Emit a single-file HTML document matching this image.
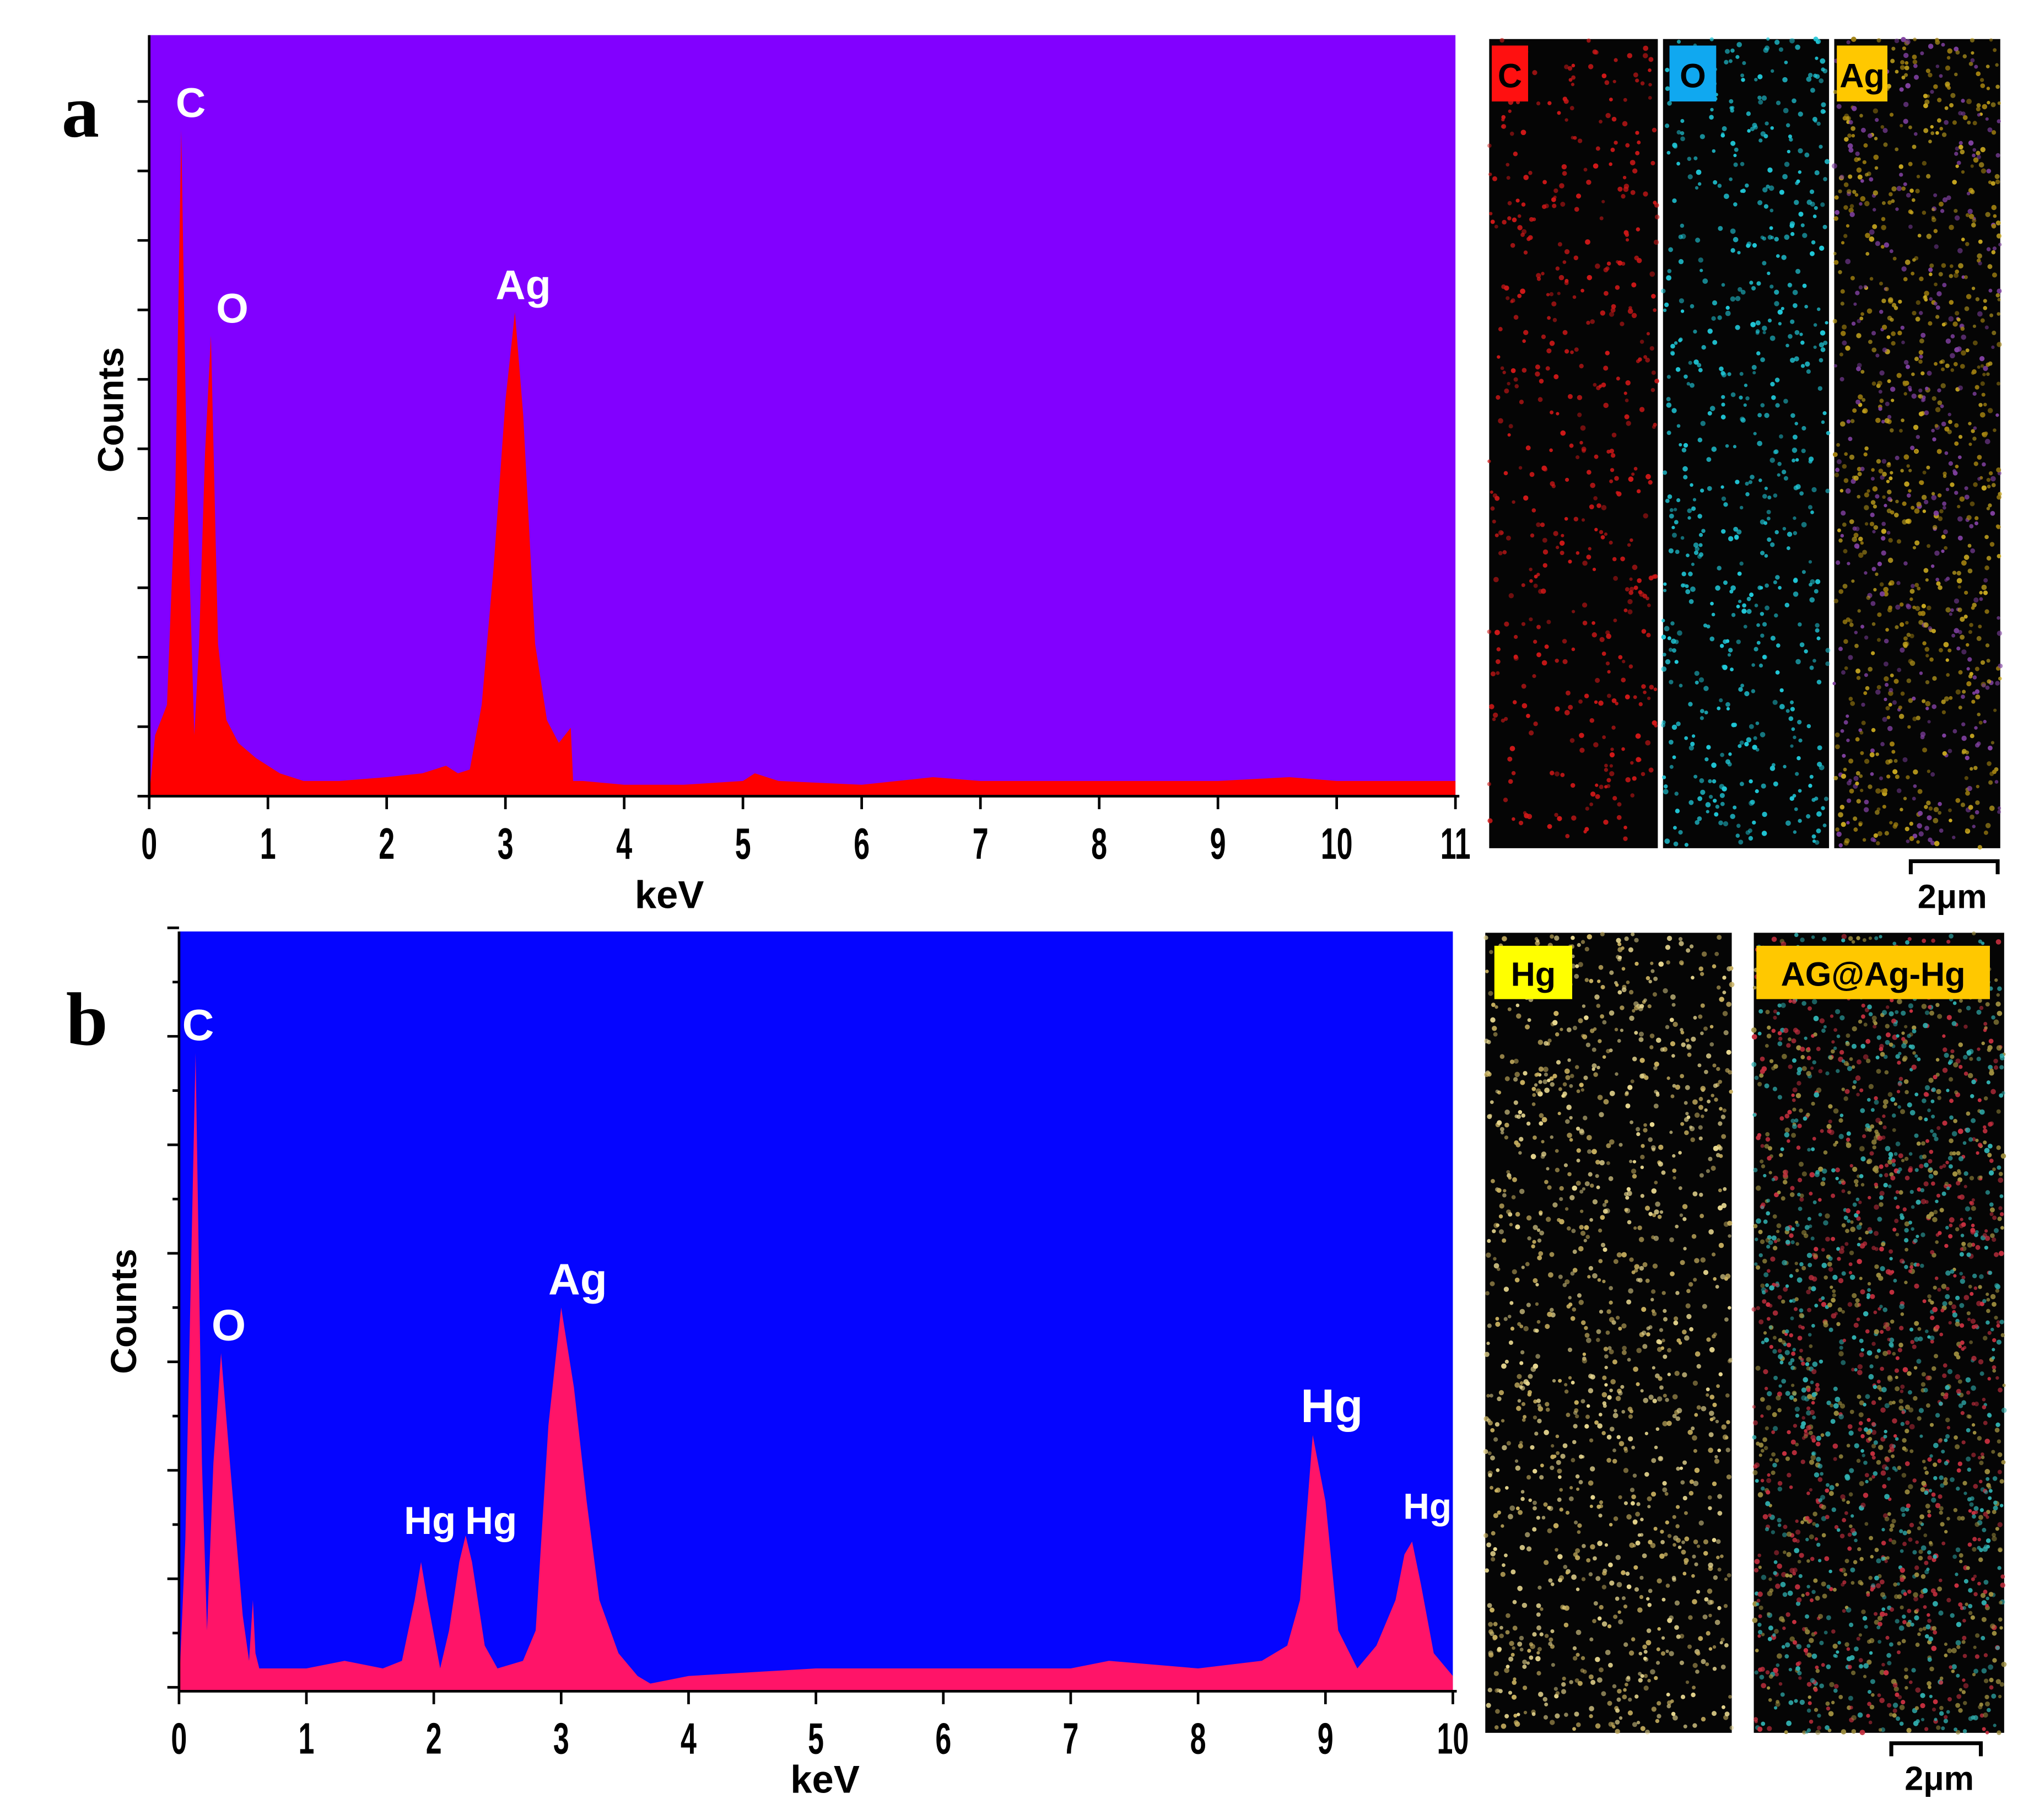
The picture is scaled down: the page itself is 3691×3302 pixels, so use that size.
<!DOCTYPE html>
<html><head><meta charset="utf-8"><style>
html,body{margin:0;padding:0;background:#fff;}
svg{display:block;}
text{font-family:"Liberation Sans",sans-serif;font-weight:bold;}
</style></head><body>
<svg id="fig" width="3691" height="3302" viewBox="0 0 1568 1399" preserveAspectRatio="none" xmlns="http://www.w3.org/2000/svg">
<g id="pa"></g>
<g id="pb"></g>
<g id="maps"></g>
</svg>
<script>
// ---- Panel a data ----
const kevA=[0,0.05,0.15,0.22,0.27,0.32,0.38,0.42,0.47,0.52,0.58,0.65,0.75,0.9,1.0,1.1,1.3,1.6,2.0,2.3,2.5,2.6,2.7,2.8,2.9,3.0,3.08,3.15,3.25,3.35,3.45,3.5,3.55,3.57,3.65,4.0,4.5,5.0,5.1,5.3,6.0,6.6,7.0,8.0,9.0,9.6,10,11];
const countsA=[0,8,12,40,87.5,40,8,20,45,60.5,20,10,7,5,4,3,2,2,2.5,3,4,3,3.5,12,30,52,63.6,50,20,10,7,8,9,2,2,1.5,1.5,2,3,2,1.5,2.5,2,2,2,2.5,2,2];
const ticksA=[0,1,2,3,4,5,6,7,8,9,10,11];
const peakLabelsA=[["C",0.35,87.5],["O",0.7,60.5],["Ag",3.15,63.6]];
// ---- Panel b data ----
const kevB=[0,0.05,0.1,0.13,0.18,0.22,0.27,0.33,0.4,0.5,0.55,0.58,0.6,0.63,0.7,1.0,1.3,1.6,1.75,1.85,1.9,1.95,2.05,2.12,2.2,2.25,2.3,2.4,2.5,2.7,2.8,2.9,3.0,3.1,3.2,3.3,3.45,3.6,3.7,4.0,5.0,6.0,7.0,7.3,8.0,8.5,8.7,8.8,8.9,9.0,9.1,9.25,9.4,9.55,9.62,9.68,9.75,9.85,10];
const countsB=[0,20,60,84,30,8,30,44.5,30,10,4,12,5,3,3,3,4,3,4,12,17,12,3,8,17,20.5,17,6,3,4,8,35,50.5,40,25,12,5,2,1,2,3,3,3,4,3,4,6,12,33.7,25,8,3,6,12,18,19.7,14,5,2];
const ticksB=[0,1,2,3,4,5,6,7,8,9,10];
const peakLabelsB=[["C",0.15,84,34],["O",0.39,44.5,34],["Ag",3.13,50.5,34],["Hg",1.97,19,30],["Hg",2.45,19,30],["Hg",9.05,33.7,36],["Hg",9.8,21,28]];

const NS="http://www.w3.org/2000/svg";
function mk(tag,attrs,parent){const e=document.createElementNS(NS,tag);for(const k in attrs)e.setAttribute(k,attrs[k]);parent.appendChild(e);return e;}

function drawPanel(g,o){
  const xs=v=>o.l+(v-o.x0)/(o.x1-o.x0)*(o.r-o.l);
  const ys=v=>o.b-v/100*(o.b-o.t);
  const bg=mk('rect',{x:o.l,y:o.t,width:o.r-o.l,height:o.b-o.t,fill:o.bg},g);
  
  
  let d='M'+xs(o.kev[0])+','+o.b;
  for(let i=0;i<o.kev.length;i++)d+=' L'+xs(o.kev[i]).toFixed(2)+','+ys(o.cnt[i]).toFixed(2);
  d+=' L'+xs(o.kev[o.kev.length-1])+','+o.b+' Z';
  const p=mk('path',{d:d,fill:o.fill},g);
  
  
  const ax=mk('line',{x1:o.l,y1:o.b,x2:o.r+3,y2:o.b,stroke:'#000','stroke-width':2},g);
  
  
  const ay=mk('line',{x1:o.l,y1:o.t,x2:o.l,y2:o.b,stroke:'#000','stroke-width':2},g);
  
  
  o.yt.forEach((y,i)=>{const t=mk('line',{x1:o.l-(i%2&&o.half?5:9),y1:y,x2:o.l,y2:y,stroke:'#000','stroke-width':2},g);
    
    });
  o.ticks.forEach(v=>{
    const t=mk('line',{x1:xs(v),y1:o.b,x2:xs(v),y2:o.b+10,stroke:'#000','stroke-width':2},g);
    
    
    const tx=mk('text',{x:xs(v),y:o.b+48,'font-size':34,'text-anchor':'middle',fill:'#000',transform:'translate('+xs(v)+',0) scale(0.65,1) translate('+(-xs(v))+',0)'},g);
    tx.textContent=v;
    
    
  });
  o.labels.forEach(L=>{
    const tx=mk('text',{x:xs(L[1]),y:ys(L[2])-10,'font-size':L[3]||32,'text-anchor':'middle',fill:'#fff'},g);
    tx.textContent=L[0];
    
    
  });
  const xl=mk('text',{x:o.kx,y:o.ky,'font-size':30,'text-anchor':'middle',fill:'#000'},g);
  xl.textContent='keV';
  
  
  const yl=mk('text',{x:0,y:0,'font-size':28,'text-anchor':'middle',fill:'#000',transform:'translate('+o.cx+','+o.cy+') rotate(-90)'},g);
  yl.textContent='Counts';
  
  
  const pl=mk('text',{x:o.px,y:o.py,'font-size':58,'text-anchor':'middle',fill:'#000'},g);
  pl.setAttribute('style','font-family:"Liberation Serif",serif');
  pl.textContent=o.plab;
  
  
}
const ytA=[];for(let i=0;i<=10;i++)ytA.push(612-i*53.4);
const ytB=[];for(let i=0;i<=14;i++)ytB.push(1297-i*41.7);
drawPanel(document.getElementById('pa'),{l:115,r:1122,t:27,b:612,x0:0,x1:11,bg:'#8200ff',fill:'#ff0000',kev:kevA,cnt:countsA,ticks:ticksA,labels:peakLabelsA,yt:ytA,half:false,kx:516,ky:698,cx:95,cy:315,px:62,py:105,plab:'a'});
drawPanel(document.getElementById('pb'),{l:138,r:1120,t:716,b:1300,x0:0,x1:10,bg:'#0505ff',fill:'#ff1468',kev:kevB,cnt:countsB,ticks:ticksB,labels:peakLabelsB,yt:ytB,half:true,kx:636,ky:1378,cx:105,cy:1008,px:67,py:803,plab:'b'});

// ---- elemental maps (texture) ----
let seed=7;function rnd(){seed=(seed*16807)%2147483647;return seed/2147483647;}
const M=document.getElementById('maps');
function map(x,y,w,h,cols,n,name){
  const g=mk('g',{},M);
  
  
  mk('rect',{x:x,y:y,width:w,height:h,fill:'#050505'},g);
  for(let i=0;i<n;i++){mk('circle',{cx:(x+rnd()*w).toFixed(1),cy:(y+rnd()*h).toFixed(1),r:1.3+rnd()*0.8,fill:cols[i%cols.length],opacity:0.5+rnd()*0.5},g);}
}
function tag(x,y,w,h,col,txt,fs){
  const r=mk('rect',{x:x,y:y,width:w,height:h,fill:col},M);
  
  
  const t=mk('text',{x:x+w/2,y:y+h*0.75,'font-size':fs,'text-anchor':'middle',fill:'#000'},M);
  t.textContent=txt;
  
  
}
mk('rect',{x:1146,y:28,width:398,height:626,fill:'#fff'},M);
map(1148,30,130,622,['#d01818'],500,'map-c');
map(1282,30,128,622,['#20c8d8'],650,'map-o');
map(1414,30,128,622,['#c8a820','#a08010','#8040a0'],1100,'map-ag');
tag(1150,35,28,43,'#ff1010','C',26);
tag(1287,35,36,43,'#10a8f0','O',26);
tag(1416,35,39,43,'#ffc800','Ag',26);
map(1145,717,190,615,['#e8d890','#c8b060'],1300,'map-hg');
map(1352,717,193,615,['#c83040','#30b0b0','#a09040'],2200,'map-overlay');
tag(1152,727,60,41,'#ffff00','Hg',26);
tag(1354,727,180,41,'#ffc800','AG@Ag-Hg',26);
function bar(x1,x2,y,tx,ty){
  const p=mk('path',{d:'M'+x1+','+(y+10)+' L'+x1+','+y+' L'+x2+','+y+' L'+x2+','+(y+10),fill:'none',stroke:'#000','stroke-width':3},M);
  
  
  const t=mk('text',{x:tx,y:ty,'font-size':26,'text-anchor':'middle',fill:'#000'},M);
  t.textContent='2μm';
  
  
}
bar(1473,1540,662,1505,698);
bar(1458,1527,1340,1495,1376);
</script>
</body></html>
